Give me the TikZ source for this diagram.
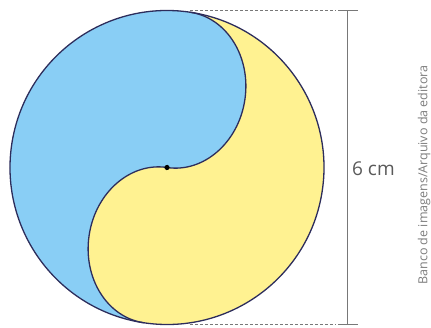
\documentclass[tikz,border=0pt]{standalone}
\usepackage{fontspec}
\setmainfont{Open Sans}
\definecolor{skyb}{RGB}{137,206,245}
\definecolor{yel}{RGB}{255,242,145}
\definecolor{navy}{RGB}{45,45,92}
\definecolor{dimgr}{RGB}{120,120,120}
\definecolor{txtgr}{RGB}{90,90,90}
\definecolor{credgr}{RGB}{125,125,125}
\begin{document}
\begin{tikzpicture}[x=1pt,y=1pt,
  outline/.style={draw=navy, line width=1.3pt},
  dimline/.style={draw=dimgr, line width=0.8pt},
  lbl/.style={text=txtgr, inner sep=0pt}]
\useasboundingbox (0,0) rectangle (431,327);
\begin{scope}[shift={(167,159.5)}, rotate=-8.5]
  \coordinate (O) at (0,0);
  \coordinate (T) at (0,157);
  \coordinate (B) at (0,-157);
  \fill[yel] (O) circle[radius=157];
  \fill[skyb] (T) arc[start angle=90,end angle=270,radius=157]
     arc[start angle=-90,end angle=-270,x radius=67,y radius=78.5]
     arc[start angle=-90,end angle=90,x radius=67,y radius=78.5] -- cycle;
  \draw[outline] (O) circle[radius=157];
  \draw[outline] (T) arc[start angle=90,end angle=-90,x radius=67,y radius=78.5]
     arc[start angle=90,end angle=270,x radius=67,y radius=78.5];
  \fill[black] (O) circle[radius=2.6];
\end{scope}
\coordinate (d1) at (190,316.5);
\coordinate (d2) at (336,316.5);
\coordinate (d3) at (190,2.5);
\coordinate (d4) at (336,2.5);
\coordinate (t1) at (338,316.5);
\coordinate (t2) at (358,316.5);
\coordinate (t3) at (338,2.5);
\coordinate (t4) at (358,2.5);
\coordinate (v1) at (347,316.5);
\coordinate (v2) at (347,2.5);
\draw[dimline, dash pattern=on 3pt off 2pt] (d1) -- (d2);
\draw[dimline, dash pattern=on 3pt off 2pt] (d3) -- (d4);
\draw[dimline] (t1) -- (t2);
\draw[dimline] (t3) -- (t4);
\draw[dimline] (v1) -- (v2);
\node[lbl, anchor=west, font=\fontsize{19}{19}\selectfont] (len) at (352,158) {6 cm};
\node[lbl, text=credgr, rotate=90, font=\fontsize{12.5}{12.5}\selectfont] (credit) at (424,152) {Banco de imagens/Arquivo da editora};
\end{tikzpicture}
\end{document}
